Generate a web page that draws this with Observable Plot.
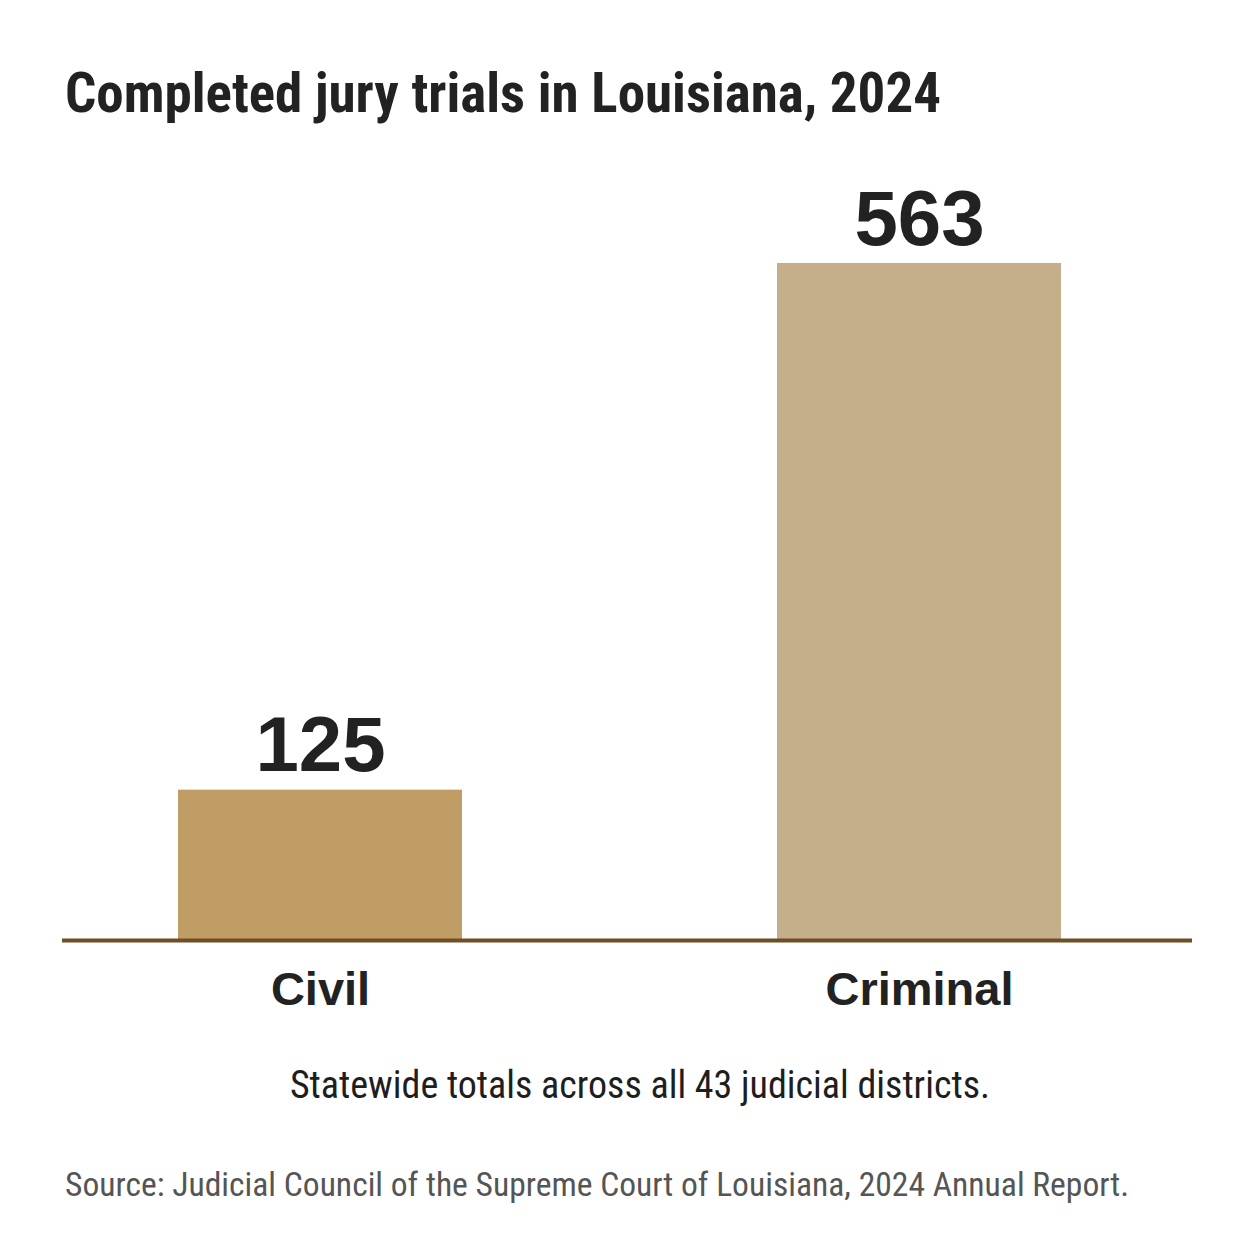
<!DOCTYPE html>
<html>
<head>
<meta charset="utf-8">
<script src="https://cdn.jsdelivr.net/npm/d3@7"></script>
<script src="https://cdn.jsdelivr.net/npm/@observablehq/plot@0.6"></script>
<style>
  html, body { margin: 0; padding: 0; background: #ffffff; }
  body { width: 1254px; height: 1254px; overflow: hidden; }
  .title {
    font-family: "Liberation Sans Narrow", "Roboto Condensed", "Liberation Sans", sans-serif;
    font-weight: 700; font-size: 55px; line-height: 55px; height: 55px;
    color: #222222; padding: 66px 0 0 65px; margin: 0; white-space: nowrap;
  }
  .caption {
    font-family: "Liberation Sans Narrow", "Roboto Condensed", "Liberation Sans", sans-serif;
    font-size: 38px; line-height: 38px; height: 38px; color: #1e1e1e;
    text-align: center; margin-top: 35px; padding-left: 26px; white-space: nowrap;
  }
  .source {
    font-family: "Liberation Sans Narrow", "Roboto Condensed", "Liberation Sans", sans-serif;
    font-size: 33.6px; line-height: 34px; height: 34px; color: #555555;
    margin-top: 64px; padding-left: 65px; white-space: nowrap;
  }
  #chart svg { display: block; }
</style>
</head>
<body>
<div class="title">Completed jury trials in Louisiana, 2024</div>
<div id="chart"></div>
<div class="caption">Statewide totals across all 43 judicial districts.</div>
<div class="source">Source: Judicial Council of the Supreme Court of Louisiana, 2024 Annual Report.</div>
<script>
const categories = ["Civil", "Criminal"];
const trials = [125, 563];
const barColors = ["#c09d65", "#c5ae8a"];

const data = categories.map((c, i) => ({category: c, value: trials[i]}));

const chart = Plot.plot({
  width: 1254,
  height: 910,
  marginTop: 142,
  marginBottom: 91,
  marginLeft: 62,
  marginRight: 62,
  style: {background: "transparent", color: "#222222"},
  x: {domain: categories, paddingInner: 0.526, paddingOuter: 0.206, align: 0.47, axis: null},
  y: {domain: [0, d3.max(trials)], axis: null},
  color: {domain: categories, range: barColors},
  marks: [
    Plot.barY(data, {x: "category", y: "value", fill: "category"}),
    Plot.ruleY([0], {stroke: "#6e4f25", strokeWidth: 4}),
    Plot.text(data, {
      x: "category", y: "value", text: d => String(d.value),
      lineAnchor: "bottom", dy: -19,
      fontSize: 78, fontWeight: 700, fill: "#222222",
      fontFamily: "'Liberation Sans', Arial, sans-serif"
    }),
    Plot.axisX({
      tickSize: 0, tickPadding: 31, fontSize: 47, fontWeight: 700,
      fontFamily: "'Liberation Sans', Arial, sans-serif", fill: "#222222", label: null
    })
  ]
});
document.getElementById("chart").appendChild(chart);
</script>
</body>
</html>
